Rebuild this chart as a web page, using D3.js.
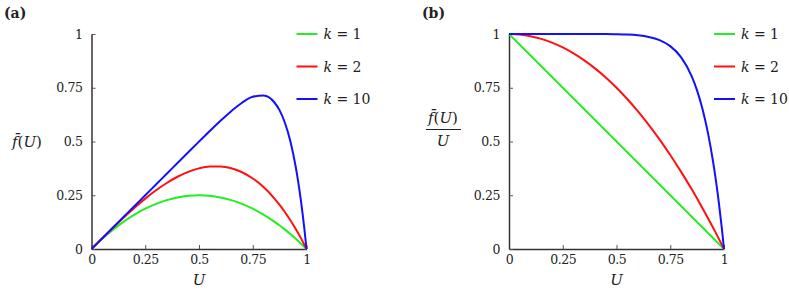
<!DOCTYPE html>
<html>
<head>
<meta charset="utf-8">
<title>f(U) panels</title>
<script src="https://cdn.jsdelivr.net/npm/d3@7"></script>
<style>
body{margin:0;background:#fff;}
svg{display:block;}
.it{font-style:italic;}
</style>
</head>
<body>
<svg id="chart" width="789" height="292"></svg>
<script>
// values
var uValues = [0,0.05,0.1,0.15,0.2,0.25,0.3,0.35,0.4,0.45,0.5,0.55,0.6,0.65,0.7,0.75,0.8,0.85,0.875,0.9,0.925,0.95,0.96,0.975,0.99,1];

var fK1  = [0,0.0475,0.09,0.1275,0.16,0.1875,0.21,0.2275,0.24,0.2475,0.25,0.2475,0.24,0.2275,0.21,0.1875,0.16,0.1275,0.1094,0.09,0.0694,0.0475,0.0384,0.0244,0.0099,0];
var fK2  = [0,0.0499,0.099,0.1466,0.192,0.2344,0.273,0.3071,0.336,0.3589,0.375,0.3836,0.384,0.3754,0.357,0.3281,0.288,0.2359,0.2051,0.171,0.1336,0.0926,0.0753,0.0482,0.0197,0];
var fK10 = [0,0.05,0.1,0.15,0.2,0.25,0.3,0.35,0.4,0.4498,0.4995,0.5486,0.5964,0.6412,0.6803,0.7078,0.7141,0.6826,0.6448,0.5862,0.5008,0.3812,0.3218,0.2181,0.0946,0];

var rK1  = [1,0.95,0.9,0.85,0.8,0.75,0.7,0.65,0.6,0.55,0.5,0.45,0.4,0.35,0.3,0.25,0.2,0.15,0.125,0.1,0.075,0.05,0.04,0.025,0.01,0];
var rK2  = [1,0.9975,0.99,0.9775,0.96,0.9375,0.91,0.8775,0.84,0.7975,0.75,0.6975,0.64,0.5775,0.51,0.4375,0.36,0.2775,0.2344,0.19,0.1444,0.0975,0.0784,0.0494,0.0199,0];
var rK10 = [1,1,1,1,1,1,1,1,0.9999,0.9997,0.999,0.9975,0.994,0.9865,0.9718,0.9437,0.8926,0.8031,0.7369,0.6513,0.5414,0.4013,0.3352,0.2237,0.0956,0];

var seriesNames = ["k = 1", "k = 2", "k = 10"];
var seriesColors = ["#22ee22", "#ff1111", "#1111ff"];
var tickValues = [0,0.25,0.5,0.75,1];
var tickLabels = ["0","0.25","0.5","0.75","1"];

var FONT = "DejaVu Serif";
var svg = d3.select("#chart");

function drawPanel(opts){
    var g = svg.append("g");
    var x = d3.scaleLinear().domain([0,1]).range([opts.x0, opts.x0 + 215]);
    var y = d3.scaleLinear().domain([0,1]).range([249, 34]);

    var xAxis = d3.axisBottom(x).tickValues(tickValues)
        .tickFormat(function(d,i){ return tickLabels[i]; })
        .tickSize(-4).tickSizeOuter(0).tickPadding(6);
    var yAxis = d3.axisLeft(y).tickValues(tickValues)
        .tickFormat(function(d,i){ return tickLabels[i]; })
        .tickSize(-4).tickSizeOuter(0).tickPadding(9);

    var gx = g.append("g").attr("transform","translate(0,249)").call(xAxis);
    var gy = g.append("g").attr("transform","translate(" + opts.x0 + ",0)").call(yAxis);
    [gx, gy].forEach(function(a){
        a.select(".domain").attr("stroke","#333").attr("stroke-width",1.5);
        a.selectAll(".tick line").attr("stroke","#555").attr("stroke-width",1);
        a.selectAll(".tick text").attr("font-size",12.5).attr("letter-spacing",-0.4).attr("fill","#222");
    });

    var line = d3.line()
        .x(function(d){ return x(d[0]); })
        .y(function(d){ return y(d[1]); })
        .curve(d3.curveMonotoneX);

    opts.data.forEach(function(vals, i){
        var pts = uValues.map(function(u, j){ return [u, vals[j]]; });
        g.append("path").datum(pts).attr("d", line)
            .attr("fill","none").attr("stroke", seriesColors[i])
            .attr("stroke-width",2).attr("stroke-linejoin","round");
    });

    // legend
    var lx = opts.x0 + 205;
    seriesNames.forEach(function(name, i){
        var ly = 34 + i * 32.5;
        g.append("line").attr("x1", lx).attr("x2", lx + 21)
            .attr("y1", ly).attr("y2", ly)
            .attr("stroke", seriesColors[i]).attr("stroke-width",2);
        var t = g.append("text").attr("x", lx + 27).attr("y", ly + 5)
            .attr("font-size",14);
        t.append("tspan").attr("class","it").text("k");
        t.append("tspan").text(" = " + name.split("= ")[1]);
    });

    // x label
    g.append("text").attr("class","it").attr("x", x(0.5)).attr("y", 285)
        .attr("text-anchor","middle").attr("font-size",15).text("U");

    // panel tag
    svg.append("text").attr("x", opts.tagX).attr("y", 18)
        .attr("font-size",14).attr("font-weight","bold").text(opts.tag);
}

function fLabel(parent, cx, cy){
    var t = parent.append("text").attr("x", cx).attr("y", cy)
        .attr("text-anchor","middle").attr("font-size",15);
    t.append("tspan").attr("class","it").text("f\u0304");
    t.append("tspan").text("(");
    t.append("tspan").attr("class","it").text("U");
    t.append("tspan").text(")");
}

drawPanel({x0: 91.5, data: [fK1, fK2, fK10], tag: "(a)", tagX: 4});
drawPanel({x0: 509, data: [rK1, rK2, rK10], tag: "(b)", tagX: 422});

// y labels
fLabel(svg, 27, 147);
fLabel(svg, 443, 123);
svg.append("line").attr("x1", 426).attr("x2", 461).attr("y1", 129.5).attr("y2", 129.5)
    .attr("stroke","#222").attr("stroke-width",1);
svg.append("text").attr("class","it").attr("x", 443).attr("y", 146)
    .attr("text-anchor","middle").attr("font-size",15).text("U");

// one font for every text
svg.selectAll("text").attr("font-family", FONT).style("font-family", FONT).attr("fill","#222");
</script>
</body>
</html>
